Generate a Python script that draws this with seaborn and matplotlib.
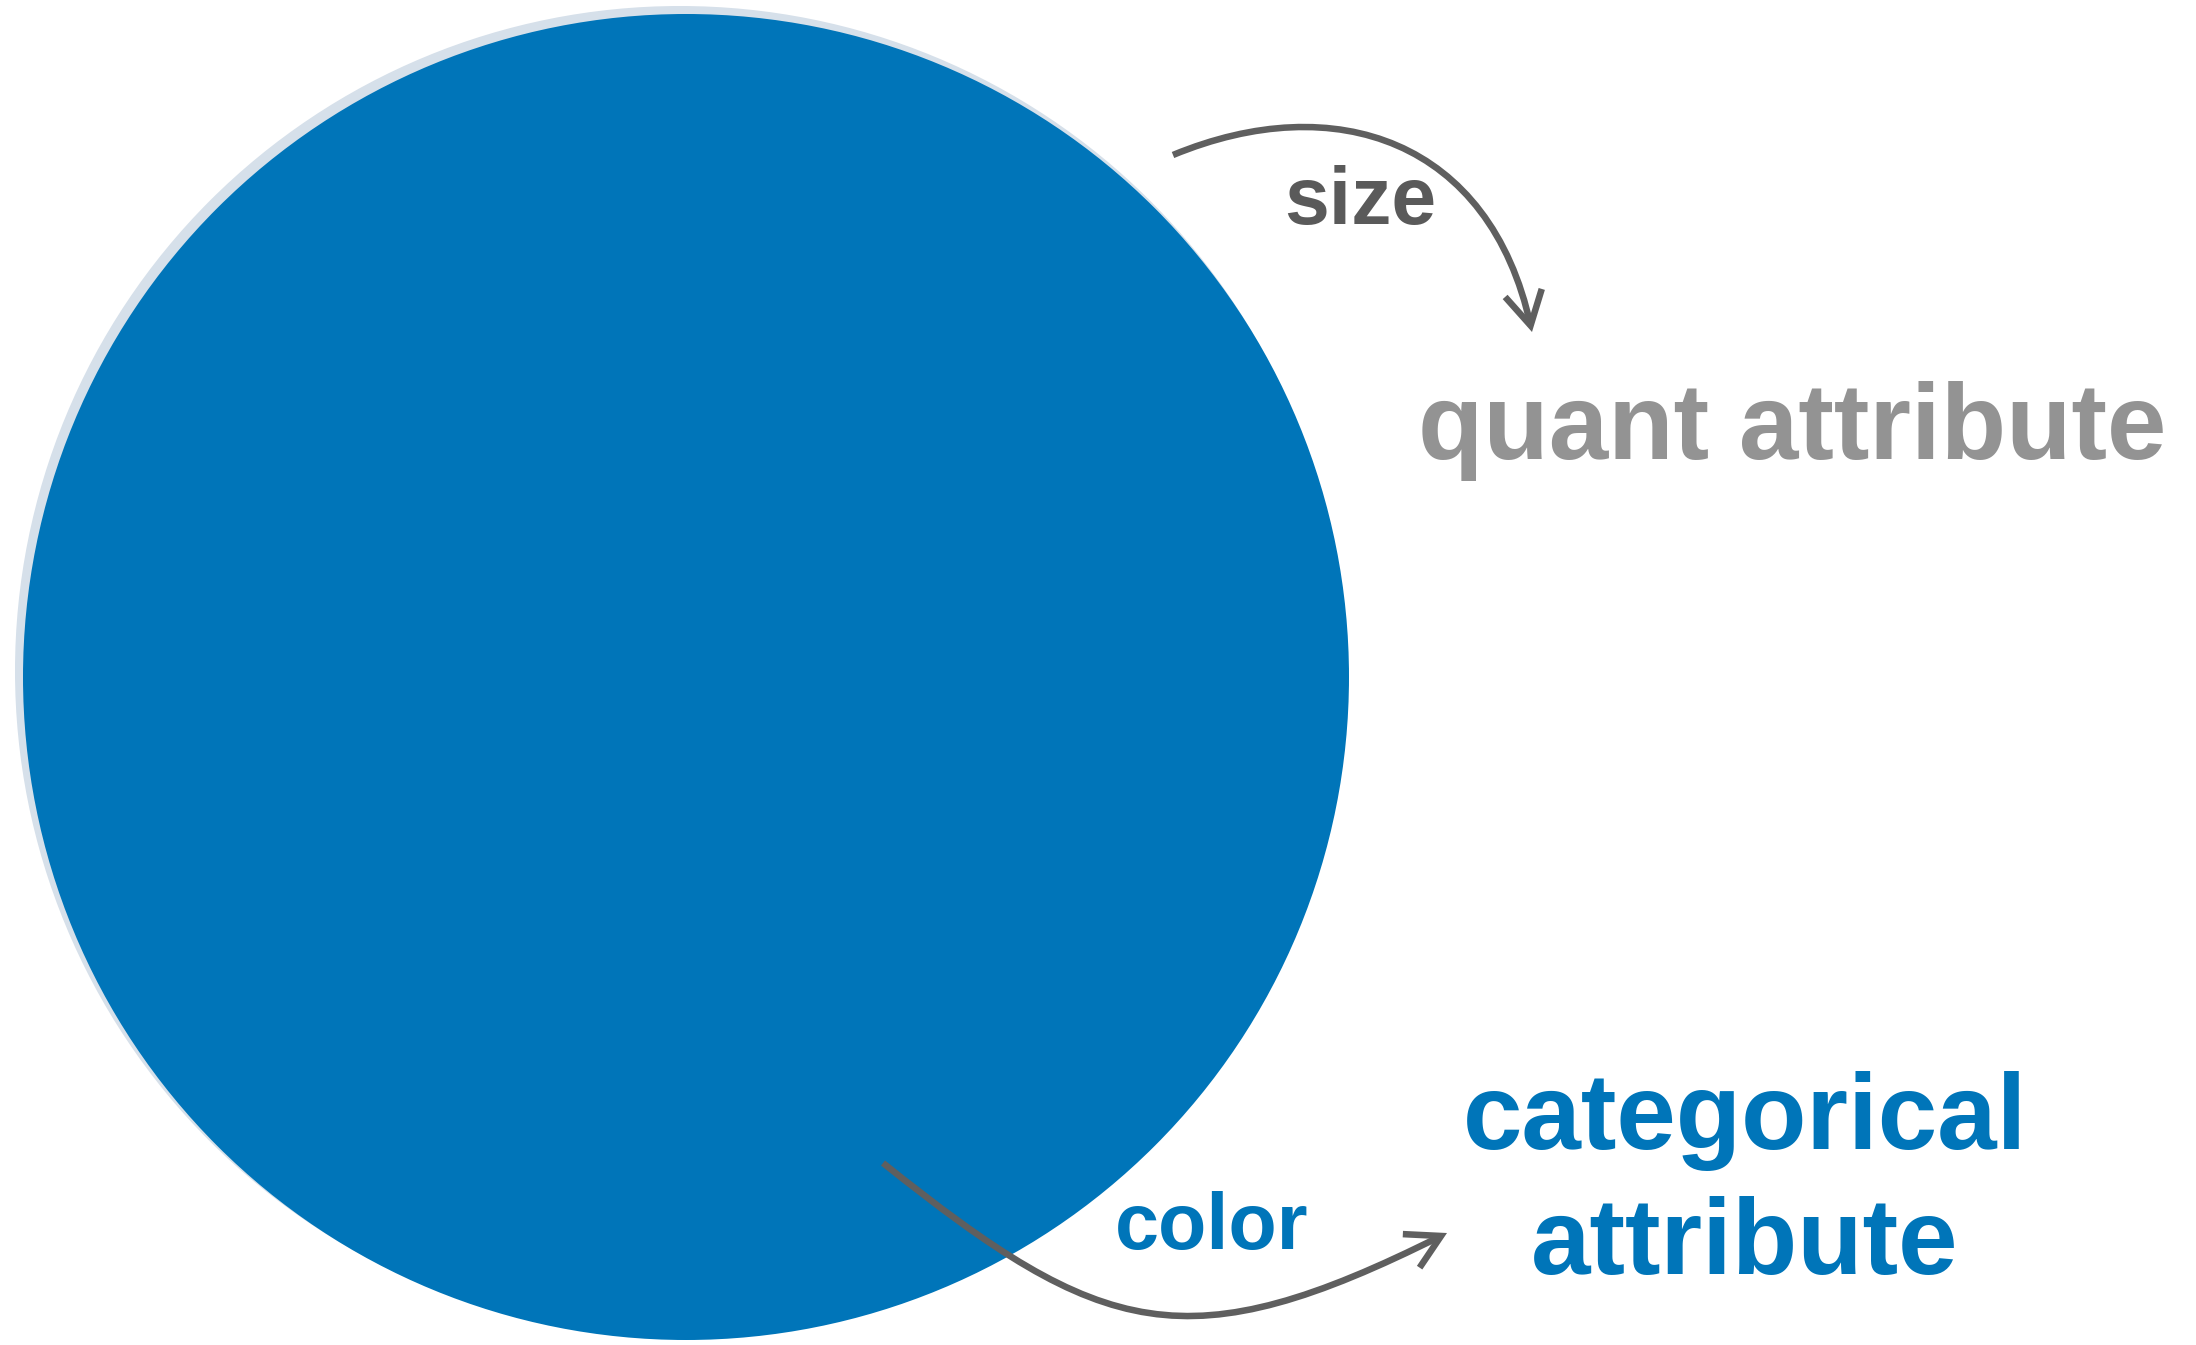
import numpy as np
import matplotlib.pyplot as plt
import seaborn as sns
from matplotlib.patches import Circle, FancyArrowPatch
from matplotlib.path import Path

# Circles (pixel coords of the 2196x1345 canvas): shadow ring, then the mark
circle_x = [680, 686]
circle_y = [671, 677]
circle_r = [665, 663]
circle_colors = ["#d6e0ea", "#0075b9"]

# Channel -> attribute arrows (cubic bezier control points)
size_arrow_x = [1173, 1335, 1490, 1532]
size_arrow_y = [155, 88, 140, 332]
color_arrow_x = [883, 1103, 1187, 1447]
color_arrow_y = [1163, 1339, 1363, 1233]

channel_labels = ["size", "color"]
attribute_labels = ["quant attribute", "categorical\nattribute"]

sns.set_theme(style="white")
plt.rcParams['font.family'] = ['Liberation Sans', 'DejaVu Sans']

fig = plt.figure(figsize=(21.96, 13.45), dpi=100)
ax = fig.add_axes([0, 0, 1, 1])
ax.set_xlim(0, 2196)
ax.set_ylim(1345, 0)
ax.set_aspect('equal')
ax.axis('off')

for x, y, r, c in zip(circle_x, circle_y, circle_r, circle_colors):
    ax.add_patch(Circle((x, y), r, facecolor=c, edgecolor='none'))

codes = [Path.MOVETO, Path.CURVE4, Path.CURVE4, Path.CURVE4]
for xs, ys in [(size_arrow_x, size_arrow_y), (color_arrow_x, color_arrow_y)]:
    path = Path(np.column_stack([xs, ys]), codes)
    arrow = FancyArrowPatch(path=path, arrowstyle="->,head_length=0.8,head_width=0.45",
                            mutation_scale=30, color="#5f5f5f", lw=4.7,
                            capstyle='butt', joinstyle='miter')
    ax.add_patch(arrow)

# channel names
ax.text(1284, 224, channel_labels[0], color="#5a5a5a", fontsize=58,
        fontweight='bold', ha='left', va='baseline')
ax.text(1115, 1249, channel_labels[1], color="#0075b9", fontsize=57,
        fontweight='bold', ha='left', va='baseline')

# attribute types
ax.text(1418, 459, attribute_labels[0], color="#939393", fontsize=77,
        fontweight='bold', ha='left', va='baseline')
ax.text(1745, 1274, attribute_labels[1], color="#0075b9", fontsize=77,
        fontweight='bold', ha='center', va='baseline', linespacing=1.32,
        multialignment='center')

fig.savefig("out.png", dpi=100)
